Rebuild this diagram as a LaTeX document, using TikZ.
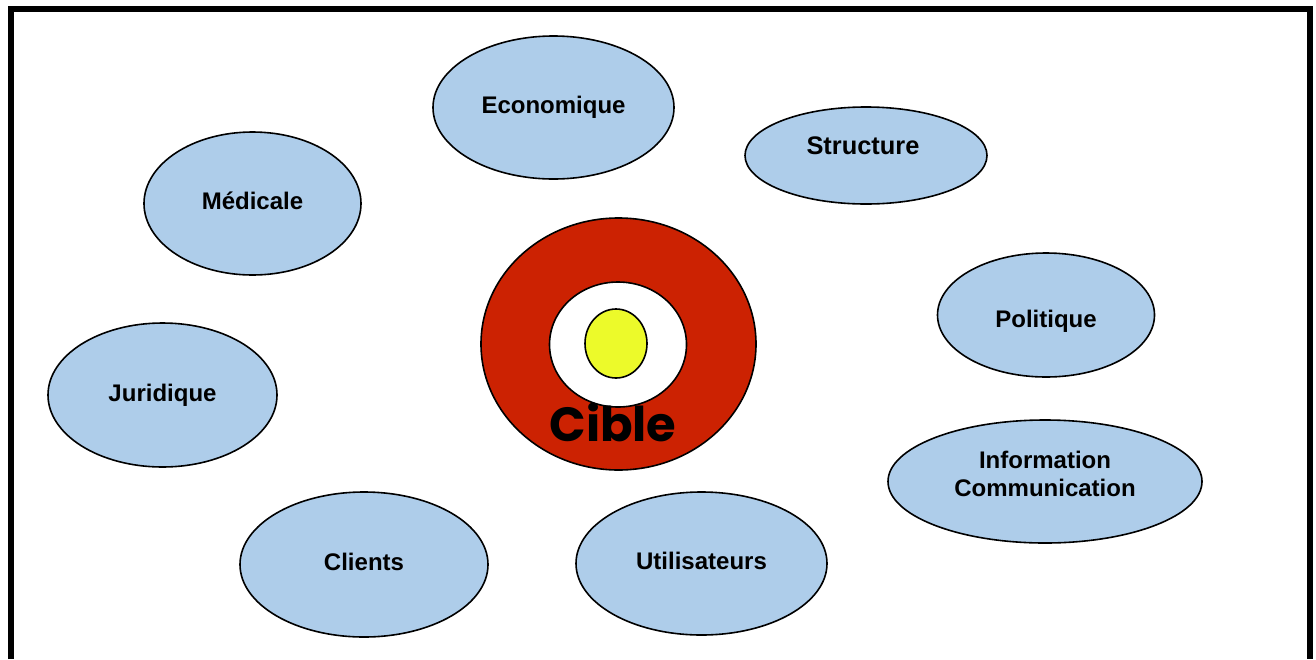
\documentclass[tikz,border=0pt]{standalone}
\usepackage{fontspec}
\setmainfont{Liberation Sans}
\newfontfamily\ciblefont{Poppins}
\usepackage{tikz}
\usetikzlibrary{shapes.geometric}

\definecolor{bleuclair}{RGB}{174,205,234}
\definecolor{rougecible}{RGB}{204,34,2}
\definecolor{jaunecible}{RGB}{236,250,42}

\begin{document}
\begin{tikzpicture}[x=0.5pt,y=-0.5pt,line join=miter]
\tikzset{bulle/.style 2 args={ellipse,draw,fill=bleuclair,line width=0.8pt,
    inner sep=0pt,minimum width=#1,minimum height=#2},
  texte/.style={font=\bfseries\fontsize{12}{14.4}\selectfont,align=center,inner sep=0pt},
  anneau/.style={ellipse,draw,line width=0.8pt}}
\useasboundingbox (0,0) rectangle (1316,659);
% cadre
\draw[line width=3pt] (11,659) -- (11,9) -- (1310,9) -- (1310,659);
% cible
\node[anneau,fill=rougecible,minimum width=137.5pt,minimum height=126pt] (cible) at (618.5,344) {};
\node[anneau,fill=white,minimum width=68.5pt,minimum height=62.5pt] (blanc) at (618,344.5) {};
\node[anneau,fill=jaunecible,minimum width=31pt,minimum height=34.5pt] (centre) at (616,343.5) {};
\node[font=\ciblefont\bfseries\fontsize{24}{24}\selectfont] (mot) at (613,422) {Cible};
% bulles
\node[bulle={120.5pt}{71.5pt},label={[texte]center:Economique}] (eco) at (553.5,107.5) {};
\node[bulle={121pt}{48.5pt},label={[texte,font=\bfseries\fontsize{12.7}{15}\selectfont,xshift=-1.5pt,yshift=4.75pt]center:Structure}] (struct) at (866,155.5) {};
\node[bulle={108.5pt}{71.5pt},label={[texte,yshift=1.25pt]center:Médicale}] (med) at (252.5,203.5) {};
\node[bulle={108.5pt}{62pt},label={[texte,yshift=-3pt]center:Politique}] (pol) at (1046,315) {};
\node[bulle={114.5pt}{72pt},label={[texte]center:Juridique}] (jur) at (162.5,395) {};
\node[bulle={157pt}{61.5pt},label={[texte,yshift=3.75pt]center:Information\\Communication}] (info) at (1045,481.5) {};
\node[bulle={124pt}{72.5pt},label={[texte,yshift=1.25pt]center:Clients}] (cli) at (364,564.5) {};
\node[bulle={125.5pt}{71.5pt},label={[texte,yshift=1.25pt]center:Utilisateurs}] (util) at (701.5,563.5) {};
\end{tikzpicture}
\end{document}
